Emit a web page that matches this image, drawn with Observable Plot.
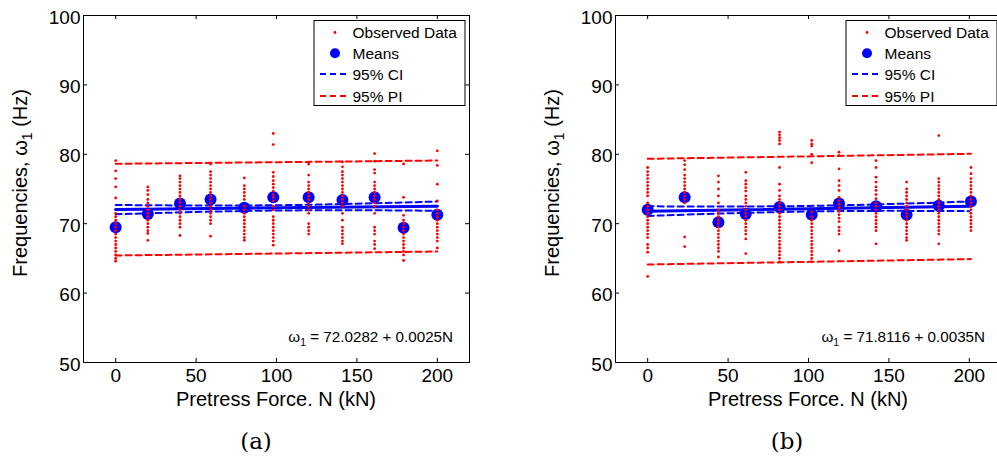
<!DOCTYPE html>
<html>
<head>
<meta charset="utf-8">
<script src="https://cdn.jsdelivr.net/npm/d3@7"></script>
<script src="https://cdn.jsdelivr.net/npm/@observablehq/plot@0.6"></script>
<style>
  html, body { margin: 0; padding: 0; background: #fff; }
  body { width: 997px; height: 457px; overflow: hidden; position: relative; font-family: "Liberation Sans", Arial, sans-serif; }
  .panel { position: absolute; top: 0; height: 415px; width: 480px; overflow: hidden; }
  .cap { position: absolute; top: 427px; font-family: "DejaVu Serif", serif; font-size: 23px; line-height: 28px; transform: translateX(-50%); color: #000; }
</style>
</head>
<body>
<div id="pa" class="panel" style="left:0px"></div>
<div id="pb" class="panel" style="left:532px"></div>
<div class="cap" style="left:256px">(a)</div>
<div class="cap" style="left:787px">(b)</div>
<script>
// ---------- data ----------
const xTicks = [0, 50, 100, 150, 200];
const yTicks = [50, 60, 70, 80, 90, 100];

// Panel (a)
const forcesA = [0, 20, 40, 59, 80, 98, 120, 141, 161, 179, 200];
const meansA = [69.5, 71.4, 72.9, 73.5, 72.3, 73.8, 73.8, 73.4, 73.8, 69.4, 71.3];
const observedA = [
  [79.1,77.6,76.5,75.3,73.7,71.5,71.0,70.5,70.0,69.5,69.0,68.5,68.0,67.5,67.0,66.5,66.0,65.5,65.0,64.6],
  [75.3,74.8,74.2,73.5,73.0,72.5,72.0,71.5,71.0,70.5,70.0,69.5,69.0,68.6,67.6],
  [76.9,76.5,76.0,75.5,75.0,74.5,74.0,73.5,73.0,72.5,72.0,71.5,71.0,70.5,70.0,69.5,68.3],
  [78.6,77.5,77.0,76.5,76.0,75.5,75.0,74.5,74.0,73.5,73.0,72.5,72.0,71.5,71.0,70.5,70.0,68.2],
  [76.6,75.5,75.0,74.5,74.0,73.5,72.5,72.0,71.5,71.0,70.5,70.0,69.5,69.0,68.5,68.0,67.6],
  [83.0,81.4,77.4,76.8,76.2,75.7,75.2,74.7,74.2,73.8,73.3,72.5,72.0,71.0,70.5,70.0,69.5,69.0,68.5,68.0,67.5,66.9],
  [78.6,77.0,76.0,75.5,75.0,74.5,74.0,73.5,73.0,72.5,72.0,71.5,70.0,69.5,69.0,68.5],
  [78.9,78.2,77.5,77.0,76.5,76.0,75.5,75.0,74.5,74.0,73.5,73.0,72.5,71.5,70.5,69.5,69.0,68.5,68.0,67.5,67.1],
  [80.1,79.0,77.8,77.3,76.0,75.5,75.0,74.5,74.0,73.5,73.0,72.5,71.5,69.5,69.0,68.5,67.5,67.0,66.4],
  [78.6,73.8,71.2,70.5,70.0,69.5,69.0,68.5,68.0,67.5,67.0,66.5,66.0,65.5,64.7],
  [80.5,78.4,75.7,73.3,72.0,71.5,71.0,70.5,70.0,69.5,69.0,68.5,68.0,67.5,66.5]
];
const fitXA = [0, 200];
const fitYA = [72.03, 72.53];
const bandX = [0, 25, 50, 75, 100, 125, 150, 175, 200];
const ciUpperA = [72.70, 72.65, 72.63, 72.63, 72.66, 72.75, 72.88, 73.03, 73.20];
const ciLowerA = [71.36, 71.53, 71.69, 71.81, 71.90, 71.93, 71.94, 71.91, 71.86];
const piXA = [0, 100, 200];
const piUpperA = [78.63, 78.86, 79.10];
const piLowerA = [65.42, 65.70, 65.99];
const eqA = ["72.0282", "0.0025"];

// Panel (b)
const forcesB = [0, 23, 44, 61, 82, 102, 119, 142, 161, 181, 201];
const meansB = [72.0, 73.8, 70.2, 71.4, 72.4, 71.3, 72.9, 72.5, 71.3, 72.6, 73.2];
const observedB = [
  [78.1,77.5,77.0,76.5,76.0,75.5,75.0,74.5,74.0,73.0,72.5,72.0,71.5,71.0,70.5,70.0,69.5,69.0,68.5,68.0,67.0,66.5,65.9,62.4],
  [79.1,78.5,77.8,77.0,76.5,76.0,75.5,75.0,74.5,74.0,73.5,73.0,68.1,66.7],
  [76.9,76.0,75.0,74.0,73.0,72.0,71.5,71.0,70.5,70.0,69.5,69.0,68.5,68.0,67.5,67.0,66.5,66.0,65.2],
  [77.4,76.2,75.7,75.2,74.7,74.0,73.5,73.0,72.5,72.0,71.5,71.0,70.5,70.0,69.5,69.0,68.5,67.8,65.7],
  [83.2,82.8,82.4,82.0,81.5,78.1,75.7,74.8,74.0,73.5,73.0,72.5,72.0,71.5,71.0,70.5,70.0,69.5,69.0,68.5,68.0,67.5,67.0,66.5,66.0,65.5,65.0,64.5],
  [82.0,81.5,81.2,80.0,78.8,71.7,71.0,70.5,70.0,69.5,69.0,68.5,68.0,67.5,67.0,66.5,66.0,65.5,65.0,64.5],
  [80.3,79.8,77.9,76.2,75.5,74.8,73.8,73.3,72.8,72.3,71.8,71.3,70.8,70.3,69.5,69.0,68.5,66.1],
  [79.1,78.1,76.7,76.0,75.3,74.8,74.2,73.6,73.0,72.5,72.0,71.5,71.0,70.5,70.0,69.5,69.0,67.1],
  [76.0,75.0,74.5,74.0,73.5,73.0,72.5,72.0,71.5,71.0,70.5,70.0,69.5,69.0,68.5,68.0,67.6],
  [82.7,76.5,76.0,75.5,75.0,74.5,74.0,73.5,73.0,72.5,72.0,71.5,71.0,70.5,70.0,69.5,69.0,68.5,67.1],
  [78.1,77.2,76.5,76.0,75.5,75.0,74.5,74.0,73.5,73.0,72.5,72.0,71.5,71.0,70.5,70.0,69.5,69.0]
];
const fitXB = [0, 201];
const fitYB = [71.81, 72.51];
const ciUpperB = [72.51, 72.48, 72.48, 72.50, 72.56, 72.68, 72.83, 73.00, 73.21];
const ciLowerB = [71.11, 71.32, 71.50, 71.64, 71.76, 71.82, 71.85, 71.84, 71.81];
const piXB = [0, 100, 201];
const piUpperB = [79.35, 79.70, 80.07];
const piLowerB = [64.12, 64.50, 64.90];
const eqB = ["71.8116", "0.0035"];

const legendLabels = ["Observed Data", "Means", "95% CI", "95% PI"];
const xLabel = "Pretress Force. N (kN)";

// ---------- drawing ----------
const RED = "#ff0000", BLUE = "#0000ff";
const W = 480, H = 415, ML = 83, MR = 11, MT = 15, MB = H - 362;
const FW = W - ML - MR, FH = H - MT - MB;

function panel(forces, means, observed, fitX, fitY, ciU, ciL, piX, piU, piL, eq) {
  const obs = observed.flatMap((col, i) => col.map(v => ({x: forces[i], y: v})));
  const mean = forces.map((f, i) => ({x: f, y: means[i]}));
  const fit = fitX.map((f, i) => ({x: f, y: fitY[i]}));
  const ci = bandX.map((f, i) => ({x: f, u: ciU[i], l: ciL[i]}));
  const pi = piX.map((f, i) => ({x: f, u: piU[i], l: piL[i]}));
  const dash = "6,4";
  const svg = Plot.plot({
    width: W, height: H,
    marginLeft: ML, marginRight: MR, marginTop: MT, marginBottom: MB,
    x: {domain: [-20, 220]},
    y: {domain: [50, 100]},
    style: {fontFamily: "'Liberation Sans', Arial, sans-serif", background: "white", color: "black"},
    marks: [
      Plot.line(pi, {x: "x", y: "u", stroke: RED, strokeWidth: 2, strokeDasharray: dash}),
      Plot.line(pi, {x: "x", y: "l", stroke: RED, strokeWidth: 2, strokeDasharray: dash}),
      Plot.line(ci, {x: "x", y: "u", stroke: BLUE, strokeWidth: 2, strokeDasharray: dash, curve: "monotone-x"}),
      Plot.line(ci, {x: "x", y: "l", stroke: BLUE, strokeWidth: 2, strokeDasharray: dash, curve: "monotone-x"}),
      Plot.line(fit, {x: "x", y: "y", stroke: BLUE, strokeWidth: 3}),
      Plot.dot(mean, {x: "x", y: "y", r: 6, fill: BLUE, stroke: null}),
      Plot.dot(obs, {x: "x", y: "y", r: 1.4, fill: RED, stroke: null}),
      // inward ticks on all four sides
      Plot.ruleY(yTicks, {stroke: "black", insetRight: FW - 4}),
      Plot.ruleY(yTicks, {stroke: "black", insetLeft: FW - 4}),
      Plot.ruleX(xTicks, {stroke: "black", insetBottom: FH - 4}),
      Plot.ruleX(xTicks, {stroke: "black", insetTop: FH - 4}),
      Plot.frame({stroke: "black", strokeWidth: 1}),
      Plot.axisX({ticks: xTicks, anchor: "bottom", tickSize: 0, tickPadding: 6, fontSize: 19, label: null, tickFormat: d => String(d)}),
      Plot.axisY({ticks: yTicks, anchor: "left", tickSize: 0, tickPadding: 3, dy: 2, fontSize: 19, label: null, tickFormat: d => String(d)})
    ]
  });
  const s = d3.select(svg);
  const ff = "'Liberation Sans', Arial, sans-serif";
  // y label
  const yl = s.append("text").attr("transform", "translate(27,183) rotate(-90)")
    .attr("text-anchor", "middle").attr("font-family", ff).attr("font-size", 20).attr("fill", "black");
  yl.append("tspan").text("Frequencies, ω");
  yl.append("tspan").attr("font-size", 14).attr("dy", 5).text("1");
  yl.append("tspan").attr("dy", -5).text(" (Hz)");
  // x label
  s.append("text").attr("x", ML + FW / 2).attr("y", 406).attr("text-anchor", "middle")
    .attr("font-family", ff).attr("font-size", 20).attr("fill", "black").text(xLabel);
  // equation
  const eqt = s.append("text").attr("x", 453).attr("y", 341.5).attr("text-anchor", "end")
    .attr("font-family", ff).attr("font-size", 15.2).attr("fill", "black");
  eqt.append("tspan").text("ω");
  eqt.append("tspan").attr("font-size", 10.5).attr("dy", 4.5).text("1");
  eqt.append("tspan").attr("dy", -4.5).text(" = " + eq[0] + " + " + eq[1] + "N");
  // legend
  const lg = s.append("g");
  lg.append("rect").attr("x", 314).attr("y", 20.5).attr("width", 151).attr("height", 85)
    .attr("fill", "white").attr("stroke", "black").attr("stroke-width", 1);
  const rows = [32.5, 53.3, 74, 96];
  lg.append("circle").attr("cx", 335).attr("cy", rows[0]).attr("r", 1.4).attr("fill", RED);
  lg.append("circle").attr("cx", 335).attr("cy", rows[1]).attr("r", 5).attr("fill", BLUE);
  lg.append("line").attr("x1", 320).attr("x2", 350).attr("y1", rows[2]).attr("y2", rows[2])
    .attr("stroke", BLUE).attr("stroke-width", 2).attr("stroke-dasharray", dash);
  lg.append("line").attr("x1", 320).attr("x2", 350).attr("y1", rows[3]).attr("y2", rows[3])
    .attr("stroke", RED).attr("stroke-width", 2).attr("stroke-dasharray", dash);
  legendLabels.forEach((t, i) => {
    lg.append("text").attr("x", 352.5).attr("y", rows[i]).attr("dy", "0.36em")
      .attr("text-anchor", "start")
      .attr("font-family", ff).attr("font-size", 15.5).attr("fill", "black").text(t);
  });
  return svg;
}

document.getElementById("pa").appendChild(
  panel(forcesA, meansA, observedA, fitXA, fitYA, ciUpperA, ciLowerA, piXA, piUpperA, piLowerA, eqA));
document.getElementById("pb").appendChild(
  panel(forcesB, meansB, observedB, fitXB, fitYB, ciUpperB, ciLowerB, piXB, piUpperB, piLowerB, eqB));
</script>
</body>
</html>
